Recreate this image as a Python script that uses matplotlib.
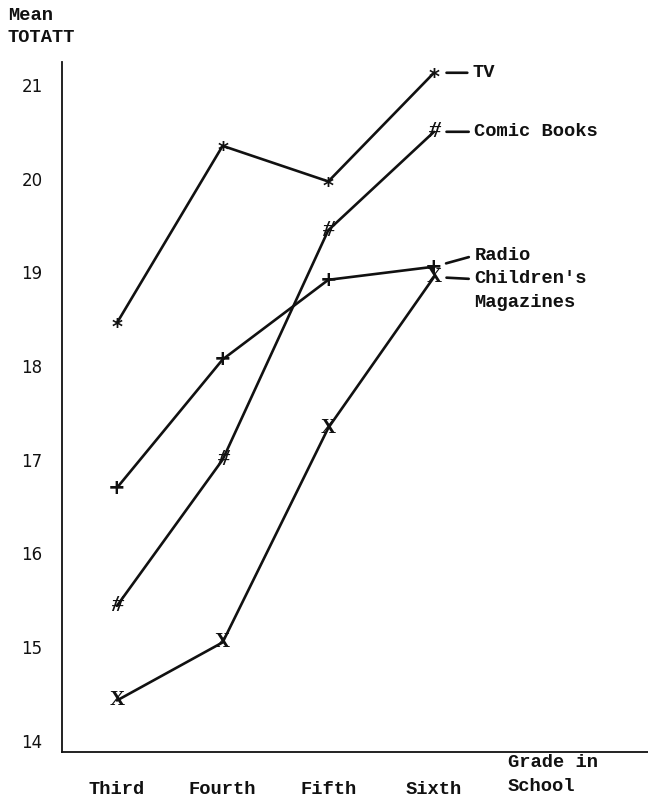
import matplotlib
matplotlib.use("Agg")
import matplotlib.pyplot as plt
from matplotlib.transforms import offset_copy

# Mean TOTATT by grade for each medium
grades = ["Third", "Fourth", "Fifth", "Sixth"]
tv = [18.46, 20.35, 19.97, 21.13]
comic_books = [15.44, 17.00, 19.45, 20.50]
radio = [16.70, 18.07, 18.92, 19.06]
childrens_magazines = [14.43, 15.05, 17.34, 18.95]
y_ticks = [14, 15, 16, 17, 18, 19, 20, 21]

TYPE_FONT = "Liberation Mono"
INK = "#111111"
TYPE = dict(family=TYPE_FONT, fontsize=13.5, color=INK, weight="bold")

fig = plt.figure(figsize=(6.48, 7.97), dpi=100)
ax = fig.add_axes([62 / 648, 45 / 797, 586 / 648, 690 / 797])

xs = list(range(len(grades)))

# glyph styles: (character, font family, size, style, weight, vertical nudge in pt)
glyphs = {
    "tv": ("*", "DejaVu Sans", 15, "normal", "bold", -4),
    "comic": ("#", "Liberation Serif", 17, "italic", "bold", 0),
    "radio": ("+", "DejaVu Sans", 15, "normal", "bold", 0),
    "mags": ("X", "Liberation Serif", 15, "normal", "bold", 0),
}

series = [
    (tv, "tv", "TV", (28, 0), "center", 0.5),
    (comic_books, "comic", "Comic Books", (29, 0), "center", 0.5),
    (radio, "radio", "Radio", (29, 8), "center", 0.5),
    (childrens_magazines, "mags", "Children's\nMagazines", (29, 5), "top", 0.78),
]

for vals, key, name, off, va, rel in series:
    ax.plot(xs, vals, color=INK, lw=1.9, solid_capstyle="round", zorder=2)
    ch, fam, size, style, weight, nudge = glyphs[key]
    tr = offset_copy(ax.transData, fig=fig, x=0, y=nudge, units="points")
    for x, v in zip(xs, vals):
        ax.text(x, v, ch, ha="center", va="center", fontsize=size,
                family=fam, style=style, weight=weight, color=INK,
                transform=tr, zorder=3)
    ax.annotate(name, xy=(xs[-1], vals[-1]), xytext=off,
                textcoords="offset points", ha="left", va=va,
                linespacing=1.55, **TYPE,
                arrowprops=dict(arrowstyle="-", color=INK, lw=1.9,
                                shrinkA=2, shrinkB=9, relpos=(0, rel)))

ax.set_xlim(-0.52, 5.025)
ax.set_ylim(13.88, 21.245)

for side in ("top", "right"):
    ax.spines[side].set_visible(False)
for side in ("left", "bottom"):
    ax.spines[side].set_linewidth(1.3)
    ax.spines[side].set_color(INK)

ax.set_yticks(y_ticks)
ax.set_yticklabels([str(t) for t in y_ticks], family="DejaVu Sans",
                   fontsize=12, color=INK)
ax.set_xticks(xs)
ax.set_xticklabels(grades, **TYPE)
ax.tick_params(axis="y", length=0, pad=14)
ax.tick_params(axis="x", length=0, pad=21)

fig.text(8 / 648, 1 - 26.5 / 797, "Mean\nTOTATT", ha="left", va="center",
         linespacing=1.4, **TYPE)
fig.text(508 / 648, 1 - 774.5 / 797, "Grade in\nSchool", ha="left",
         va="center", linespacing=1.55, **TYPE)

fig.savefig("out.png", dpi=100, facecolor="white")
